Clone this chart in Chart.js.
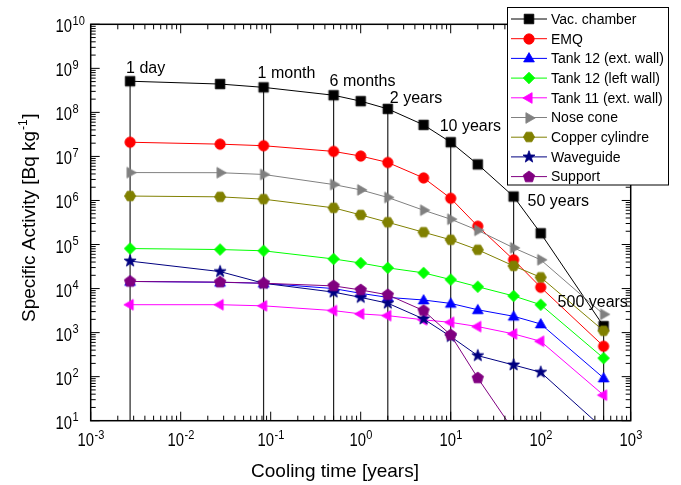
<!DOCTYPE html>
<html>
<head>
<meta charset="utf-8">
<script src="https://cdn.jsdelivr.net/npm/chart.js@4.4.1/dist/chart.umd.min.js"></script>
<style>
    html, body { margin: 0; padding: 0; background: #fff; }
    #wrap { width: 681px; height: 485px; }
</style>
</head>
<body>
<div id="wrap"><canvas id="actChart" width="681" height="485"></canvas></div>
<script>
// cooling times in years: 1 d, 10 d, 1 mo, 6 mo, 1 y, 2 y, 5 y, 10 y, 20 y, 50 y, 100 y, 500 y
const coolingTimes = [1/365, 10/365, 1/12, 0.5, 1, 2, 5, 10, 20, 50, 100, 500];

// specific activity [Bq/kg]
const vacChamber = [5.1e8, 4.4e8, 3.7e8, 2.45e8, 1.8e8, 1.2e8, 5.2e7, 2.1e7, 6.6e6, 1.23e6, 1.8e5, 1.4e3];
const emq        = [2.1e7, 1.9e7, 1.75e7, 1.3e7, 1.02e7, 7.3e6, 3.25e6, 1.12e6, 2.6e5, 4.5e4, 1.07e4, 490];
const tank12Ext  = [1.45e4, 1.39e4, 1.32e4, 1.0e4, 7.8e3, 6.3e3, 5.5e3, 4.6e3, 3.3e3, 2.35e3, 1.57e3, 93];
const tank12Left = [8.1e4, 7.7e4, 7.2e4, 4.7e4, 3.8e4, 2.95e4, 2.27e4, 1.6e4, 1.1e4, 6.8e3, 4.3e3, 263];
const tank11Ext  = [4.3e3, 4.3e3, 4.05e3, 3.16e3, 2.66e3, 2.43e3, 1.95e3, 1.71e3, 1.37e3, 935, 635, 38];
const noseCone   = [4.3e6, 4.27e6, 3.9e6, 2.3e6, 1.74e6, 1.17e6, 6.0e5, 3.76e5, 2.1e5, 8.4e4, 4.5e4, 2.6e3];
const copperCyl  = [1.26e6, 1.21e6, 1.07e6, 6.8e5, 4.7e5, 3.2e5, 1.9e5, 1.28e5, 7.6e4, 3.27e4, 1.8e4, 1.1e3];
const waveguide  = [4.2e4, 2.43e4, 1.32e4, 8.3e3, 6.3e3, 4.65e3, 2.04e3, 815, 300, 184, 126, 6.5];
const support    = [1.45e4, 1.4e4, 1.32e4, 1.15e4, 9.3e3, 7.2e3, 3.16e3, 885, 93, 6, null, null];

const seriesNames = ['Vac. chamber', 'EMQ', 'Tank 12 (ext. wall)', 'Tank 12 (left wall)',
    'Tank 11 (ext. wall)', 'Nose cone', 'Copper cylindre', 'Waveguide', 'Support'];
const seriesValues = [vacChamber, emq, tank12Ext, tank12Left, tank11Ext, noseCone, copperCyl, waveguide, support];

// marked cooling times (vertical lines up to the vac. chamber curve)
const timeMarks = [1/365, 1/12, 0.5, 2, 10, 50, 500];
const timeMarkLabels = ['1 day', '1 month', '6 months', '2 years', '10 years', '50 years', '500 years'];

const xExponents = [-3, -2, -1, 0, 1, 2, 3];
const yExponents = [1, 2, 3, 4, 5, 6, 7, 8, 9, 10];

// styles
const seriesColors = ['#000000', '#ff0000', '#0000ff', '#00ff00', '#ff00ff', '#808080', '#808000', '#000080', '#800080'];
const seriesShapes = ['square', 'circle', 'triUp', 'diamond', 'triLeft', 'triRight', 'hexagon', 'star', 'pentagon'];
const markLabelOffsets = [[-4, -8], [-6, -9], [-4, -9], [2, -6], [-11, -11], [14, 9], [-46, -19]];
const FONT = '"Liberation Sans", Arial, sans-serif';

function polyPath(g, n, r, rot) {
    for (let k = 0; k < n; k++) {
        const a = rot + k * 2 * Math.PI / n;
        if (k === 0) g.moveTo(r * Math.cos(a), r * Math.sin(a));
        else g.lineTo(r * Math.cos(a), r * Math.sin(a));
    }
    g.closePath();
}

function makeMarker(shape, color) {
    const c = document.createElement('canvas');
    c.width = 16; c.height = 16;
    const g = c.getContext('2d');
    g.translate(8, 8);
    g.fillStyle = color;
    g.strokeStyle = color;
    g.lineWidth = 0.8;
    g.beginPath();
    if (shape === 'square') g.rect(-4.8, -4.8, 9.6, 9.6);
    else if (shape === 'circle') g.arc(0, 0, 5.2, 0, Math.PI * 2);
    else if (shape === 'triUp') { g.translate(0, 0.8); polyPath(g, 3, 6.2, -Math.PI / 2); }
    else if (shape === 'triLeft') polyPath(g, 3, 6.2, Math.PI);
    else if (shape === 'triRight') polyPath(g, 3, 6.2, 0);
    else if (shape === 'diamond') polyPath(g, 4, 5.8, -Math.PI / 2);
    else if (shape === 'hexagon') polyPath(g, 6, 5.6, 0);
    else if (shape === 'pentagon') polyPath(g, 5, 6, -Math.PI / 2);
    else if (shape === 'star') {
        for (let k = 0; k < 10; k++) {
            const r = k % 2 === 0 ? 6.3 : 2.6;
            const a = -Math.PI / 2 + k * Math.PI / 5;
            if (k === 0) g.moveTo(r * Math.cos(a), r * Math.sin(a));
            else g.lineTo(r * Math.cos(a), r * Math.sin(a));
        }
        g.closePath();
    }
    g.fill();
    g.stroke();
    return c;
}

const markers = seriesShapes.map((s, i) => makeMarker(s, seriesColors[i]));

// text squeezed horizontally, like the narrow tick labels of the original
function narrowText(ctx, text, x, y, font, sx) {
    ctx.save();
    ctx.font = font;
    ctx.translate(x, y);
    ctx.scale(sx, 1);
    ctx.textAlign = 'left';
    ctx.textBaseline = 'alphabetic';
    ctx.fillText(text, 0, 0);
    ctx.restore();
}

function powerLabel(ctx, exp, x, y, mode) {
    const baseFont = '19px ' + FONT;
    const supFont = '13px ' + FONT;
    const sb = 0.78, ss = 0.85;
    ctx.font = baseFont;
    const wb = ctx.measureText('10').width * sb;
    ctx.font = supFont;
    const we = ctx.measureText(String(exp)).width * ss;
    const x0 = mode === 'center' ? x - (wb + we) / 2 : x - wb;
    narrowText(ctx, '10', x0, y, baseFont, sb);
    narrowText(ctx, String(exp), x0 + wb + 0.5, y - 7.5, supFont, ss);
}

const axesAndNotes = {
    id: 'axesAndNotes',
    beforeDatasetsDraw(chart) {
        const {ctx, chartArea, scales: {x, y}} = chart;
        ctx.save();
        ctx.strokeStyle = '#222';
        ctx.lineWidth = 1.2;
        timeMarks.forEach(t => {
            const idx = coolingTimes.indexOf(t);
            const px = x.getPixelForValue(t);
            ctx.beginPath();
            ctx.moveTo(px, chartArea.bottom);
            ctx.lineTo(px, y.getPixelForValue(vacChamber[idx]));
            ctx.stroke();
        });
        ctx.restore();
    },
    afterDatasetsDraw(chart) {
        const {ctx, chartArea: ca, scales: {x, y}} = chart;
        ctx.save();

        // notes over the marked times
        ctx.fillStyle = '#000';
        ctx.font = '16px ' + FONT;
        ctx.textAlign = 'left';
        ctx.textBaseline = 'alphabetic';
        timeMarks.forEach((t, i) => {
            const idx = coolingTimes.indexOf(t);
            const px = x.getPixelForValue(t);
            const py = y.getPixelForValue(vacChamber[idx]);
            ctx.fillText(timeMarkLabels[i], px + markLabelOffsets[i][0], py + markLabelOffsets[i][1]);
        });

        // frame
        ctx.strokeStyle = '#000';
        ctx.lineWidth = 1.5;
        ctx.strokeRect(ca.left, ca.top, ca.right - ca.left, ca.bottom - ca.top);

        // inward ticks on all four sides
        ctx.lineWidth = 1;
        ctx.beginPath();
        xExponents.forEach(e => {
            const steps = e < 3 ? [1, 2, 3, 4, 5, 6, 7, 8, 9] : [1];
            steps.forEach(m => {
                const px = x.getPixelForValue(m * Math.pow(10, e));
                const len = m === 1 ? 9 : 5;
                ctx.moveTo(px, ca.bottom); ctx.lineTo(px, ca.bottom - len);
                ctx.moveTo(px, ca.top); ctx.lineTo(px, ca.top + len);
            });
        });
        yExponents.forEach(e => {
            const steps = e < 10 ? [1, 2, 3, 4, 5, 6, 7, 8, 9] : [1];
            steps.forEach(m => {
                const py = y.getPixelForValue(m * Math.pow(10, e));
                const len = m === 1 ? 9 : 5;
                ctx.moveTo(ca.left, py); ctx.lineTo(ca.left + len, py);
                ctx.moveTo(ca.right, py); ctx.lineTo(ca.right - len, py);
            });
        });
        ctx.stroke();

        // tick labels
        ctx.fillStyle = '#000';
        xExponents.forEach(e => {
            powerLabel(ctx, e, x.getPixelForValue(Math.pow(10, e)), ca.bottom + 25.5, 'center');
        });
        yExponents.forEach(e => {
            powerLabel(ctx, e, 72, y.getPixelForValue(Math.pow(10, e)) + 8, 'right');
        });

        // axis titles
        ctx.font = '19px ' + FONT;
        ctx.textAlign = 'center';
        ctx.fillText('Cooling time [years]', 335, 476.5);

        ctx.save();
        ctx.translate(35, 322);
        ctx.rotate(-Math.PI / 2);
        ctx.textAlign = 'left';
        ctx.font = '19px ' + FONT;
        const part1 = 'Specific Activity [Bq kg';
        ctx.fillText(part1, 0, 0);
        let w = ctx.measureText(part1).width;
        ctx.font = '12px ' + FONT;
        ctx.fillText('-1', w + 1, -8);
        w += ctx.measureText('-1').width + 1.5;
        ctx.font = '19px ' + FONT;
        ctx.fillText(']', w, 0);
        ctx.restore();

        // legend box
        const lx = 507.5, ly = 7.5, lw = 161, lh = 177.5;
        ctx.fillStyle = '#fff';
        ctx.fillRect(lx, ly, lw, lh);
        ctx.strokeStyle = '#000';
        ctx.lineWidth = 1;
        ctx.strokeRect(lx, ly, lw, lh);
        ctx.font = '14px ' + FONT;
        ctx.textAlign = 'left';
        ctx.textBaseline = 'middle';
        seriesNames.forEach((name, i) => {
            const ry = 19 + i * 19.7;
            ctx.strokeStyle = seriesColors[i];
            ctx.beginPath();
            ctx.moveTo(511, ry);
            ctx.lineTo(547, ry);
            ctx.stroke();
            ctx.drawImage(markers[i], 529 - 8, Math.round(ry) - 8);
            ctx.fillStyle = '#000';
            ctx.fillText(name, 551, ry + 1);
        });

        ctx.restore();
    }
};

const datasets = seriesNames.map((name, i) => ({
    label: name,
    data: coolingTimes.map((t, j) => ({ x: t, y: seriesValues[i][j] })),
    borderColor: seriesColors[i],
    backgroundColor: seriesColors[i],
    borderWidth: 1,
    pointStyle: markers[i],
    pointRadius: 5,
    tension: 0,
    clip: 0,
    order: seriesNames.length - i
}));

new Chart(document.getElementById('actChart'), {
    type: 'line',
    data: { datasets: datasets },
    options: {
        responsive: false,
        animation: false,
        layout: { padding: { left: 90.7, top: 24.3, right: 50.3, bottom: 64.3 } },
        plugins: {
            legend: { display: false },
            tooltip: { enabled: false }
        },
        scales: {
            x: { type: 'logarithmic', min: 1e-3, max: 1e3, display: false },
            y: { type: 'logarithmic', min: 10, max: 1e10, display: false }
        }
    },
    plugins: [axesAndNotes]
});
</script>
</body>
</html>
